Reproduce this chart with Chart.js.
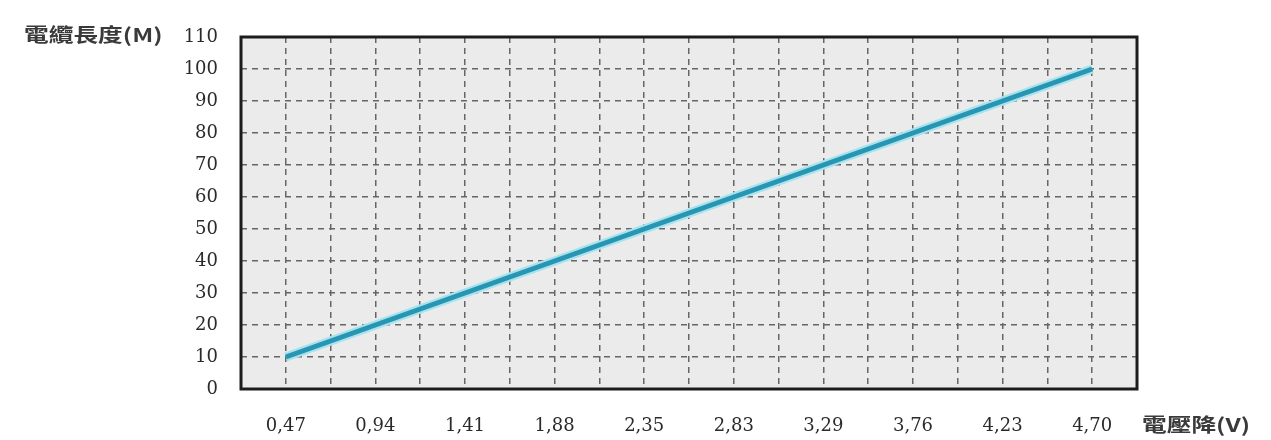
<!DOCTYPE html>
<html>
<head>
<meta charset="utf-8">
<style>
html, body { margin: 0; padding: 0; background: #fff; }
#chart_container { width: 1271px; height: 440px; position: relative; }
</style>
</head>
<body>
<div id="chart_container">
  <canvas id="myChart"></canvas>
</div>

<script src="https://cdn.jsdelivr.net/npm/chart.js"></script>

<script>
// values
const voltageDrop = [0.47, 0.94, 1.41, 1.88, 2.35, 2.82, 3.29, 3.76, 4.23, 4.70];
const cableLength = [10, 20, 30, 40, 50, 60, 70, 80, 90, 100];
const xTickLabels = ['0,47', '0,94', '1,41', '1,88', '2,35', '2,83', '3,29', '3,76', '4,23', '4,70'];
const yTitle = '電纜長度(M)';
const xTitle = '電壓降(V)';

const halfStep = 0.235;   // grid every half label step
const points = voltageDrop.map((v, i) => ({ x: v, y: cableLength[i] }));

// gray plot background + black frame
const frame = {
  id: 'frame',
  beforeDraw(chart) {
    const { ctx, chartArea: a } = chart;
    ctx.save();
    ctx.fillStyle = '#ebebeb';
    ctx.fillRect(a.left, a.top, a.right - a.left, a.bottom - a.top);
    ctx.restore();
  },
  beforeDatasetsDraw(chart) {
    const { ctx, chartArea: a } = chart;
    ctx.save();
    ctx.strokeStyle = '#1c1c1c';
    ctx.lineWidth = 3;
    ctx.strokeRect(a.left, a.top, a.right - a.left, a.bottom - a.top);
    ctx.restore();
  }
};

// axis titles, stretched wide like the scan
function drawTitle(ctx, text, x, y) {
  ctx.save();
  ctx.fillStyle = '#3a3a3a';
  ctx.font = '600 19px "Noto Sans CJK TC"';
  ctx.textBaseline = 'middle';
  ctx.translate(x, y);
  ctx.scale(1.3, 1);
  ctx.fillText(text, 0, 0);
  ctx.restore();
}

const titles = {
  id: 'titles',
  afterDraw(chart) {
    drawTitle(chart.ctx, yTitle, 24, 35);
    drawTitle(chart.ctx, xTitle, 1142, 425);
  }
};

const ctx = document.getElementById('myChart');

let chart = new Chart(ctx, {
  type: 'line',
  data: {
    datasets: [{
      data: points,
      borderColor: '#2896b2',
      borderWidth: 5,
      pointRadius: 0,
      tension: 0
    }, {
      data: points,
      borderColor: '#a6e3ee',
      borderWidth: 9,
      pointRadius: 0,
      tension: 0
    }]
  },
  options: {
    responsive: true,
    maintainAspectRatio: false,
    animation: false,
    layout: { padding: { top: 37, right: 134, bottom: 0, left: 0 } },
    plugins: {
      legend: { display: false },
      tooltip: { enabled: false }
    },
    scales: {
      x: {
        type: 'linear',
        min: halfStep,
        max: halfStep * 21,
        afterBuildTicks: s => {
          const t = [];
          for (let k = 1; k <= 21; k++) t.push({ value: +(k * halfStep).toFixed(3) });
          s.ticks = t;
        },
        afterFit: s => { s.height = 51; },
        border: { display: false, dash: [6, 5] },
        grid: { color: '#666', lineWidth: 1.5, drawTicks: false },
        ticks: {
          autoSkip: false,
          maxRotation: 0,
          padding: 27,
          color: '#2a2a2a',
          font: { family: '"DejaVu Serif"', size: 18 },
          callback: (v, i) => (i % 2 === 1 ? xTickLabels[(i - 1) / 2] : '')
        }
      },
      y: {
        min: 0,
        max: 110,
        afterFit: s => { s.width = 241; },
        border: { display: false, dash: [6, 5] },
        grid: { color: '#666', lineWidth: 1.5, drawTicks: false },
        ticks: {
          stepSize: 10,
          padding: 23,
          color: '#2a2a2a',
          font: { family: '"DejaVu Serif"', size: 18 }
        }
      }
    }
  },
  plugins: [frame, titles]
});
</script>
</body>
</html>
